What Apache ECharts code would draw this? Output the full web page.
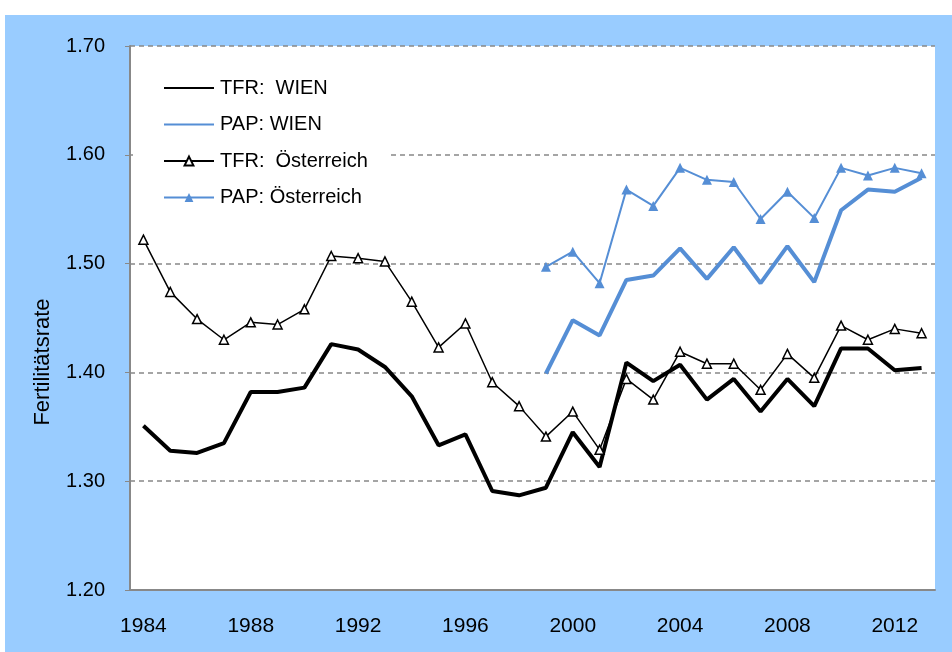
<!DOCTYPE html>
<html>
<head>
<meta charset="utf-8">
<script src="https://cdn.jsdelivr.net/npm/echarts@6/dist/echarts.min.js"></script>
<style>
  html, body { margin: 0; padding: 0; background: #fff; }
  #wrap { position: relative; width: 952px; height: 652px; background: #fff; }
  #chart { position: absolute; left: 5px; top: 15px; width: 947px; height: 637px; }
</style>
</head>
<body>
<div id="wrap"><div id="chart"></div></div>
<script>
// Jahre 1984 - 2013
const years = []
for (let y = 1984; y <= 2013; y++) years.push(String(y))

const tfrWien = [1.351, 1.328, 1.326, 1.335, 1.382, 1.382, 1.386, 1.426, 1.421, 1.405,
  1.378, 1.333, 1.343, 1.291, 1.287, 1.294, 1.345, 1.313, 1.409, 1.392,
  1.407, 1.375, 1.394, 1.364, 1.394, 1.369, 1.422, 1.422, 1.402, 1.404]

const papWien = [null, null, null, null, null, null, null, null, null, null,
  null, null, null, null, null, 1.399, 1.448, 1.434, 1.485, 1.489,
  1.514, 1.486, 1.515, 1.482, 1.516, 1.483, 1.549, 1.568, 1.566, 1.579]

const tfrOesterreich = [1.522, 1.474, 1.449, 1.430, 1.446, 1.444, 1.458, 1.507, 1.505, 1.502,
  1.465, 1.423, 1.445, 1.391, 1.369, 1.341, 1.364, 1.329, 1.394, 1.375,
  1.419, 1.408, 1.408, 1.384, 1.417, 1.395, 1.443, 1.430, 1.440, 1.436]

const papOesterreich = [null, null, null, null, null, null, null, null, null, null,
  null, null, null, null, null, 1.497, 1.511, 1.482, 1.568, 1.553,
  1.588, 1.577, 1.575, 1.541, 1.566, 1.542, 1.588, 1.581, 1.588, 1.583]

const blue = '#558ED5'
const font = 'Liberation Sans, Arial, sans-serif'

const chart = echarts.init(document.getElementById('chart'))

const option = {
  backgroundColor: '#99CCFF',
  animation: false,
  textStyle: { fontFamily: font },
  grid: {
    left: 125,
    right: 17,
    top: 31,
    bottom: 62,
    show: true,
    backgroundColor: '#fff',
    borderWidth: 0,
  },
  legend: {
    orient: 'vertical',
    left: 128,
    top: 55,
    padding: [8, 22, 8, 30],
    backgroundColor: '#fff',
    itemWidth: 50,
    itemHeight: 11,
    itemGap: 16.5,
    textStyle: { fontSize: 20, color: '#000', fontFamily: font, padding: [0, 0, 0, 1] },
    lineStyle: { width: 2 },
    data: [
      // WIEN-Linien ohne Marker in der Legende
      { name: 'TFR:  WIEN', itemStyle: { opacity: 0 } },
      { name: 'PAP: WIEN', itemStyle: { opacity: 0 } },
      'TFR:  Österreich',
      'PAP: Österreich',
    ],
  },
  xAxis: {
    type: 'category',
    data: years,
    boundaryGap: true,
    axisLine: { lineStyle: { color: '#888', width: 2 } },
    axisTick: { interval: 0, length: 5, lineStyle: { color: '#888' } },
    axisLabel: { interval: 3, margin: 26, fontSize: 21, color: '#000' },
  },
  yAxis: {
    type: 'value',
    min: 1.2,
    max: 1.7,
    interval: 0.1,
    name: 'Fertilitätsrate',
    nameLocation: 'middle',
    nameGap: 76,
    nameTextStyle: { fontSize: 22, color: '#000', padding: [0, 88, 0, 0] },
    axisLine: { show: true, lineStyle: { color: '#888', width: 2 } },
    axisTick: { show: true, length: 5, lineStyle: { color: '#888' } },
    axisLabel: {
      fontSize: 20,
      color: '#000',
      margin: 25,
      formatter: (v) => v.toFixed(2),
    },
    splitLine: { lineStyle: { color: '#888', type: [5, 4], width: 1.5 } },
  },
  series: [
    {
      name: 'TFR:  WIEN',
      type: 'line',
      data: tfrWien,
      symbol: 'none',
      lineStyle: { color: '#000', width: 4 },
      itemStyle: { color: '#000' },
      z: 2,
    },
    {
      name: 'PAP: WIEN',
      type: 'line',
      data: papWien,
      symbol: 'none',
      lineStyle: { color: blue, width: 4 },
      itemStyle: { color: blue },
      z: 2,
    },
    {
      name: 'TFR:  Österreich',
      type: 'line',
      data: tfrOesterreich,
      symbol: 'triangle',
      symbolSize: 9,
      lineStyle: { color: '#000', width: 1.5 },
      itemStyle: { color: '#fff', borderColor: '#000', borderWidth: 1.5 },
      z: 3,
    },
    {
      name: 'PAP: Österreich',
      type: 'line',
      data: papOesterreich,
      symbol: 'triangle',
      symbolSize: 10,
      lineStyle: { color: blue, width: 2 },
      itemStyle: { color: blue },
      z: 3,
    },
  ],
}

chart.setOption(option)
</script>
</body>
</html>
